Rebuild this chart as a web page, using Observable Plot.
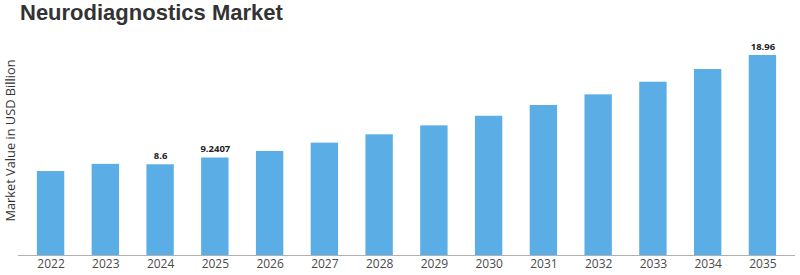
<!DOCTYPE html>
<html>
<head>
<meta charset="utf-8">
<script src="https://cdn.jsdelivr.net/npm/d3@7"></script>
<script src="https://cdn.jsdelivr.net/npm/@observablehq/plot@0.6"></script>
<style>
  html, body { margin: 0; padding: 0; background: #fff; }
  #wrap { position: relative; width: 800px; height: 275px; overflow: hidden; }
  #title { position: absolute; left: 20px; top: 1px; font-family: "Liberation Sans", Arial, sans-serif; font-weight: bold; font-size: 22px; line-height: 24px; color: #333; white-space: nowrap; }
  #chart { position: absolute; left: 0; top: 28px; }
</style>
</head>
<body>
<div id="wrap">
  <div id="title">Neurodiagnostics Market</div>
  <div id="chart"></div>
</div>
<script>
const years = ["2022","2023","2024","2025","2026","2027","2028","2029","2030","2031","2032","2033","2034","2035"];
const values = [7.96, 8.64, 8.6, 9.2407, 9.86, 10.65, 11.44, 12.29, 13.2, 14.22, 15.23, 16.43, 17.63, 18.96];
const valueLabels = ["", "", "8.6", "9.2407", "", "", "", "", "", "", "", "", "", "18.96"];
const yAxisLabel = "Market Value in USD Billion";

const data = years.map((y, i) => ({year: y, value: values[i], label: valueLabels[i]}));

const chart = Plot.plot({
  width: 800,
  height: 247,
  marginLeft: 18,
  marginRight: 5,
  marginTop: 27,
  marginBottom: 20,
  style: { fontFamily: "'Open Sans', sans-serif", background: "#fff" },
  x: { domain: years, paddingInner: 0.5, paddingOuter: 0.345, round: false, label: null },
  y: { domain: [0, 18.96], axis: null },
  marks: [
    Plot.barY(data, { x: "year", y: "value", fill: "#5aaee5" }),
    Plot.ruleY([0], { stroke: "#b0b0b0", strokeWidth: 1.2 }),
    Plot.axisX({ tickSize: 0, tickPadding: 4, fontSize: 12, color: "#4a4a4a", label: null }),
    Plot.text(data.filter(d => d.label), { x: "year", y: "value", text: "label", dy: -9, fontSize: 9.5, fontWeight: "bold", fill: "#222" }),
    Plot.text([yAxisLabel], { text: d => d, frameAnchor: "left", textAnchor: "middle", rotate: -90, dx: -8, dy: -15, fontSize: 12.8, fill: "#333" })
  ]
});
document.getElementById("chart").appendChild(chart);
</script>
</body>
</html>
